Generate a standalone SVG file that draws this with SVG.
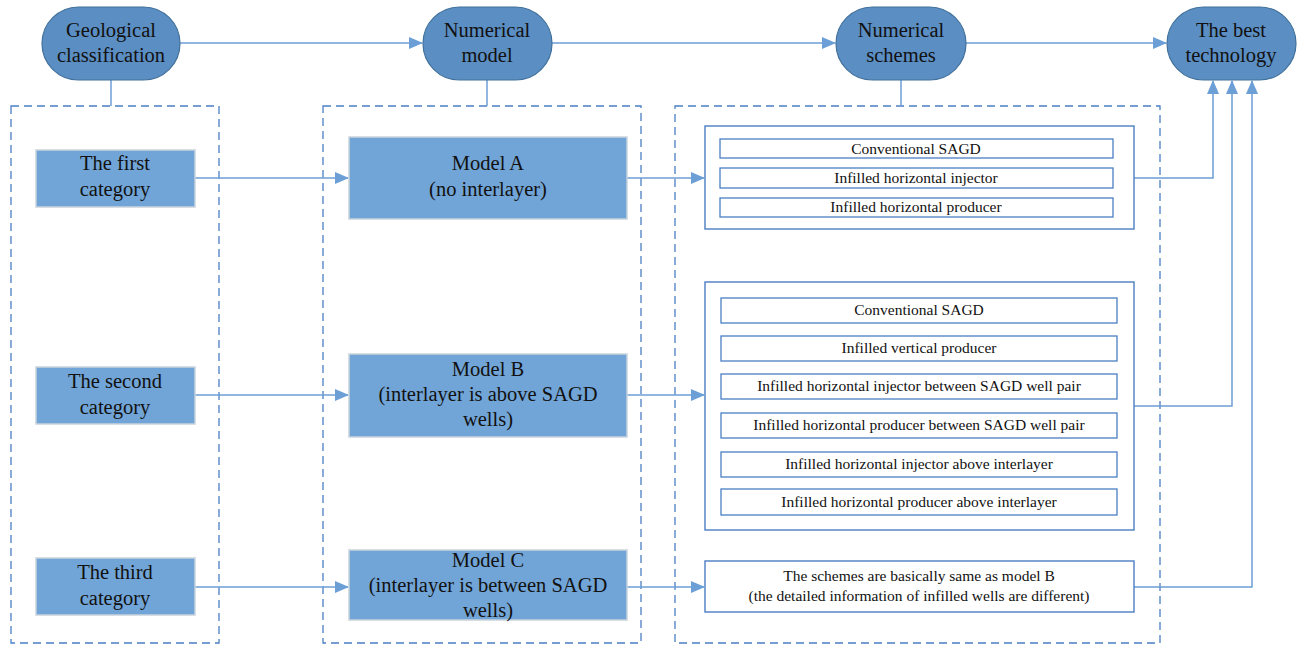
<svg xmlns="http://www.w3.org/2000/svg" width="1297" height="648" viewBox="0 0 1297 648">
<style>
.pill{fill:#5b8ec3;stroke:#41719c;stroke-width:1.2}
.cat{fill:#71a5d7;stroke:#c9d3dc;stroke-width:1.5}
.grp{fill:none;stroke:#4a7fc3;stroke-width:1.3;stroke-dasharray:8,5}
.box{fill:#fff;stroke:#4a7fc3;stroke-width:1.4}
.row{fill:#fff;stroke:#4a7fc3;stroke-width:1.3}
.t{font-family:'Liberation Serif','Times New Roman','DejaVu Serif',serif;fill:#111;text-anchor:middle}
.big{font-size:20.5px}
.sm{font-size:15.5px}
.ln{fill:none;stroke:#6c9fd6;stroke-width:1.5}
</style>
<defs>
<marker id="ah" markerWidth="14" markerHeight="12" refX="13" refY="6" orient="auto" markerUnits="userSpaceOnUse">
<path d="M0,0 L14,6 L0,12 Z" fill="#6c9fd6"/>
</marker>
</defs>
<g id="groups">
<rect class="grp" x="11" y="106" width="208" height="537"/>
<rect class="grp" x="323" y="106" width="318" height="537"/>
<rect class="grp" x="675" y="106" width="485" height="537"/>
</g>
<g id="connectors">
<line class="ln" x1="180" y1="43" x2="422" y2="43" marker-end="url(#ah)"/>
<line class="ln" x1="552" y1="43" x2="835" y2="43" marker-end="url(#ah)"/>
<line class="ln" x1="966" y1="43" x2="1166" y2="43" marker-end="url(#ah)"/>
<line class="ln" x1="111" y1="80" x2="111" y2="106"/>
<line class="ln" x1="487" y1="80" x2="487" y2="106"/>
<line class="ln" x1="901" y1="80" x2="901" y2="106"/>
<line class="ln" x1="195" y1="178" x2="348" y2="178" marker-end="url(#ah)"/>
<line class="ln" x1="195" y1="395" x2="348" y2="395" marker-end="url(#ah)"/>
<line class="ln" x1="195" y1="587" x2="348" y2="587" marker-end="url(#ah)"/>
<line class="ln" x1="627" y1="178" x2="704" y2="178" marker-end="url(#ah)"/>
<line class="ln" x1="627" y1="395" x2="704" y2="395" marker-end="url(#ah)"/>
<line class="ln" x1="627" y1="587" x2="704" y2="587" marker-end="url(#ah)"/>
<polyline class="ln" points="1134,178 1213,178 1213,81" marker-end="url(#ah)"/>
<polyline class="ln" points="1134,406 1232,406 1232,81" marker-end="url(#ah)"/>
<polyline class="ln" points="1134,587 1252,587 1252,81" marker-end="url(#ah)"/>
</g>
<g id="geo">
<rect class="pill" x="42" y="7" width="138" height="73" rx="36.5"/>
<text class="t big" x="111" y="37">Geological</text>
<text class="t big" x="111" y="62">classification</text>
</g>
<g id="nummodel">
<rect class="pill" x="423" y="7" width="129" height="73" rx="36.5"/>
<text class="t big" x="487" y="37">Numerical</text>
<text class="t big" x="487" y="62">model</text>
</g>
<g id="numschemes">
<rect class="pill" x="836" y="7" width="130" height="73" rx="36.5"/>
<text class="t big" x="901" y="37">Numerical</text>
<text class="t big" x="901" y="62">schemes</text>
</g>
<g id="best">
<rect class="pill" x="1167" y="7" width="129" height="73" rx="36.5"/>
<text class="t big" x="1231" y="37">The best</text>
<text class="t big" x="1231" y="62">technology</text>
</g>
<g id="cat1">
<rect class="cat" x="36" y="150" width="159" height="57"/>
<text class="t big" x="115" y="170">The first</text>
<text class="t big" x="115" y="196">category</text>
</g>
<g id="cat2">
<rect class="cat" x="36" y="367" width="159" height="57"/>
<text class="t big" x="115" y="388">The second</text>
<text class="t big" x="115" y="414">category</text>
</g>
<g id="cat3">
<rect class="cat" x="36" y="558" width="159" height="57"/>
<text class="t big" x="115" y="579">The third</text>
<text class="t big" x="115" y="605">category</text>
</g>
<g id="modelA">
<rect class="cat" x="349" y="137" width="278" height="82"/>
<text class="t big" x="488" y="170">Model A</text>
<text class="t big" x="488" y="196">(no interlayer)</text>
</g>
<g id="modelB">
<rect class="cat" x="349" y="354" width="278" height="83"/>
<text class="t big" x="488" y="376">Model B</text>
<text class="t big" x="488" y="401">(interlayer is above SAGD</text>
<text class="t big" x="488" y="426">wells)</text>
</g>
<g id="modelC">
<rect class="cat" x="349" y="550" width="278" height="70"/>
<text class="t big" x="488" y="567">Model C</text>
<text class="t big" x="488" y="592">(interlayer is between SAGD</text>
<text class="t big" x="488" y="617">wells)</text>
</g>
<g id="schemesA">
<rect class="box" x="705" y="126" width="429" height="103"/>
<rect class="row" x="720" y="139" width="393" height="19"/>
<text class="t sm" x="916" y="154">Conventional SAGD</text>
<rect class="row" x="720" y="168" width="393" height="20"/>
<text class="t sm" x="916" y="183">Infilled horizontal injector</text>
<rect class="row" x="720" y="198" width="393" height="19"/>
<text class="t sm" x="916" y="212">Infilled horizontal producer</text>
</g>
<g id="schemesB">
<rect class="box" x="705" y="282" width="429" height="248"/>
<rect class="row" x="721" y="298" width="396" height="25"/>
<text class="t sm" x="919" y="315">Conventional SAGD</text>
<rect class="row" x="721" y="336" width="396" height="25"/>
<text class="t sm" x="919" y="353">Infilled vertical producer</text>
<rect class="row" x="721" y="374" width="396" height="25"/>
<text class="t sm" x="919" y="391">Infilled horizontal injector between SAGD well pair</text>
<rect class="row" x="721" y="413" width="396" height="25"/>
<text class="t sm" x="919" y="430">Infilled horizontal producer between SAGD well pair</text>
<rect class="row" x="721" y="452" width="396" height="25"/>
<text class="t sm" x="919" y="469">Infilled horizontal injector above interlayer</text>
<rect class="row" x="721" y="489" width="396" height="26"/>
<text class="t sm" x="919" y="507">Infilled horizontal producer above interlayer</text>
</g>
<g id="schemesC">
<rect class="box" x="705" y="561" width="429" height="51"/>
<text class="t sm" x="919" y="581">The schemes are basically same as model B</text>
<text class="t sm" x="919" y="601">(the detailed information of infilled wells are different)</text>
</g>
</svg>
